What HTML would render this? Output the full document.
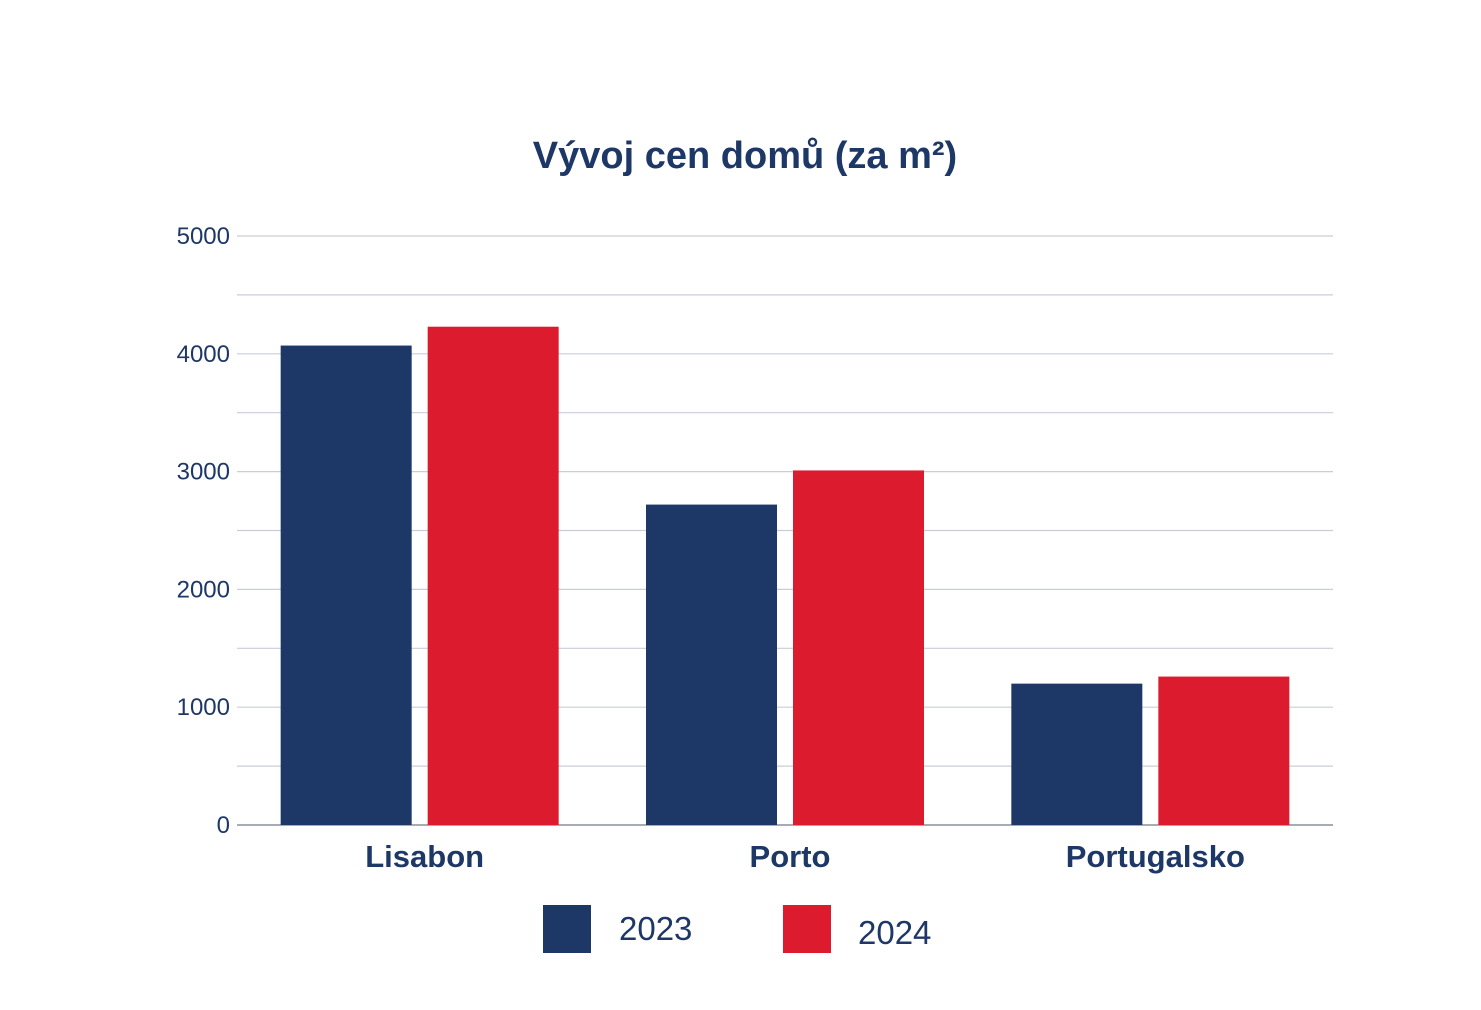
<!DOCTYPE html>
<html><head><meta charset="utf-8"><style>
html,body{margin:0;padding:0;background:#fff;}
svg{display:block;font-family:"Liberation Sans",Arial,sans-serif;}
</style></head><body>
<svg id="chart" width="1481" height="1010" viewBox="0 0 1481 1010">
<text x="745" y="168" text-anchor="middle" font-size="38" font-weight="bold" fill="#1d3767">Vývoj cen domů (za m²)</text>
<g id="grid"></g><g id="bars"></g><g id="labels"></g>
<g>
<rect x="543" y="905" width="48" height="48" fill="#1d3767"/>
<text x="619" y="940" font-size="33" fill="#1d3767">2023</text>
<rect x="783" y="905" width="48" height="48" fill="#dc1c2e"/>
<text x="858" y="944" font-size="33" fill="#1d3767">2024</text>
</g>
</svg>
<script>
const categories=["Lisabon","Porto","Portugalsko"];
const series2023=[4070,2720,1200];
const series2024=[4230,3010,1260];
const yTicks=[0,1000,2000,3000,4000,5000];
const NS="http://www.w3.org/2000/svg";
const x0=237,x1=1333,y0=825,y5=236,ymax=5000;
const y=v=>y0-(v/ymax)*(y0-y5);
const band=(x1-x0)/categories.length;
function mk(t,a,p){const e=document.createElementNS(NS,t);for(const k in a)e.setAttribute(k,a[k]);p.appendChild(e);return e;}
const grid=document.getElementById('grid'),bars=document.getElementById('bars'),labels=document.getElementById('labels');
for(let v=500;v<=ymax;v+=500){const l=mk('line',{x1:x0,x2:x1,y1:y(v),y2:y(v),stroke:'#c9cdd8','stroke-width':1.2},grid);

}
const ax=mk('line',{x1:x0,x2:x1,y1:y0,y2:y0,stroke:'#8a8f9c','stroke-width':1.5},grid);


yTicks.forEach(v=>{const t=mk('text',{x:230,y:y(v)+8,'text-anchor':'end','font-size':24,fill:'#1d3767'},labels);t.textContent=v;

});
const bw=131,gap=16;
categories.forEach((c,i)=>{const cx=x0+band*(i+0.5);
[[series2023,'#1d3767','2023'],[series2024,'#dc1c2e','2024']].forEach(([s,col,yr],j)=>{
const bx=j===0?cx-gap/2-bw:cx+gap/2;
const r=mk('rect',{x:bx,y:y(s[i]),width:bw,height:y0-y(s[i]),fill:col},bars);

});
const t=mk('text',{x:cx+5,y:867,'text-anchor':'middle','font-size':31,'font-weight':'bold',fill:'#1d3767'},labels);t.textContent=c;

});
</script>
</body></html>
